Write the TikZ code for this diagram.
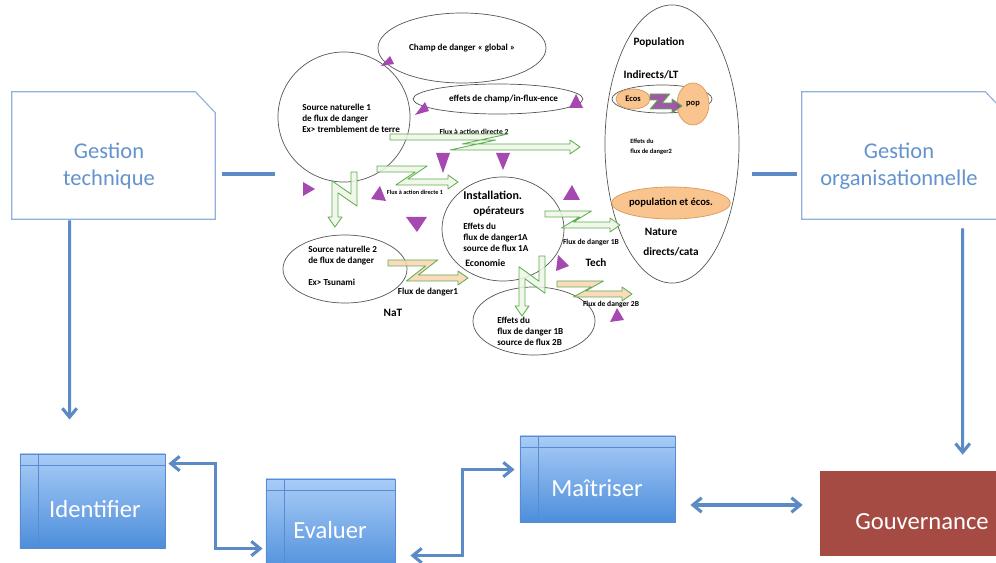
\documentclass[tikz,border=0pt]{standalone}
\usepackage{fontspec}
\setmainfont{Carlito}
\usetikzlibrary{arrows.meta, positioning, shapes.geometric, calc}
\definecolor{linkblue}{HTML}{5B8AC6}
\definecolor{docedge}{HTML}{8FB0DA}
\definecolor{docblue}{HTML}{6393CE}
\definecolor{tabtop}{HTML}{A9CCF7}
\definecolor{tabbot}{HTML}{4C8EDB}
\definecolor{tabedge}{HTML}{5A8ACF}
\definecolor{govred}{HTML}{A64B43}
\definecolor{fluxedge}{HTML}{5DAE4C}
\definecolor{fluxgreen}{HTML}{EEF6E8}
\definecolor{fluxpeach}{HTML}{FAD3B3}
\definecolor{zpurple}{HTML}{8E3D96}
\definecolor{trifill}{HTML}{A548B0}
\definecolor{orangefill}{HTML}{F9C48E}
\definecolor{orangeline}{HTML}{D8985A}
\definecolor{ringgray}{HTML}{555555}

% zigzag flux arrow: x, y, length, offset, rotation, fill
\newcommand{\zflux}[6]{%
  \begin{scope}[shift={(#1,#2)}, rotate=#5]
    \draw[flux, fill=#6] (0,-3) -- ({0.62*#3},-3) -- ({0.38*#3},{#4-3})
      -- ({#3-10},{#4-3}) -- ({#3-10},{#4-7}) -- (#3,#4) -- ({#3-10},{#4+7})
      -- ({#3-10},{#4+3}) -- ({0.38*#3-12},{#4+3}) -- ({0.62*#3-12},3)
      -- (0,3) -- cycle;
  \end{scope}}

\begin{document}
\begin{tikzpicture}[
  x=0.025cm, y=-0.025cm,
  bubble/.style={draw=ringgray, ellipse, inner sep=0pt, line width=0.5pt},
  orangebub/.style={bubble, draw=orangeline, fill=orangefill},
  lbl/.style={font=\fontsize{6.5}{7.8}\selectfont\bfseries, inner sep=0pt, align=left},
  big/.style={font=\fontsize{8}{9.6}\selectfont\bfseries, inner sep=0pt},
  small/.style={font=\fontsize{5.4}{6.4}\selectfont\bfseries, inner sep=0pt, align=left},
  tiny/.style={font=\fontsize{4.4}{5.6}\selectfont\bfseries, inner sep=0pt, align=left},
  flux/.style={draw=fluxedge, line width=0.6pt, line join=round, fill opacity=0.85},
  tri/.style={fill=trifill},
  docbox/.style={minimum width=5.075cm, minimum height=3.175cm, inner sep=0pt},
  doctext/.style={text=docblue, align=center, inner sep=0pt, font=\fontsize{16}{19.2}\selectfont},
  docline/.style={draw=docedge, line width=0.8pt},
  tabbox/.style={draw=tabedge, line width=0.6pt, top color=tabtop, bottom color=tabbot,
    path picture={\draw[tabedge, line width=0.5pt]
      ([xshift=4.5mm]path picture bounding box.north west) -- ([xshift=4.5mm]path picture bounding box.south west)
      ([yshift=-2.8mm]path picture bounding box.north west) -- ([yshift=-2.8mm]path picture bounding box.north east);}},
  govbox/.style={fill=govred, minimum width=4.75cm, minimum height=2.125cm},
  boxtext/.style={text=white, font=\fontsize{17.5}{21}\selectfont, inner sep=0pt},
  link/.style={draw=linkblue, line width=2.2pt},
  arr/.style={link, {Straight Barb[length=2.2mm,width=3.6mm]}-{Straight Barb[length=2.2mm,width=3.6mm]}},
]
\useasboundingbox (0,0) rectangle (996,563);
\clip (0,0) rectangle (996,563);

% Side frames
\node[docbox] (gt) at (113.5,155.5) {};
\node[docbox] (go) at (903.5,155.5) {};
\foreach \n in {gt,go} {
  \draw[docline] (\n.south west) -- (\n.north west) -- ([xshift=-0.5cm]\n.north east)
    -- ([yshift=-0.525cm]\n.north east) -- (\n.south east) -- cycle;
}
\node[doctext] (tgt) at (109,166) {Gestion\\technique};
\node[doctext] (tgo) at (899,166) {Gestion\\organisationnelle};
\coordinate (l1) at (222,174);
\coordinate (l2) at (275,174);
\coordinate (r1) at (752,174);
\coordinate (r2) at (797,174);
\draw[link] (l1) -- (l2);
\draw[link] (r1) -- (r2);

% Bottom steps
\node[tabbox, minimum width=3.625cm, minimum height=2.35cm] (id) at (92.5,501) {};
\node[tabbox, minimum width=3.225cm, minimum height=2.4cm] (ev) at (330.5,527) {};
\node[tabbox, minimum width=3.875cm, minimum height=2.15cm] (mt) at (597.5,479) {};
\node[govbox] (gv) at (915,513.5) {};
\node[boxtext] (tid) at (95,509) {Identifier};
\node[boxtext] (tev) at (330,530) {Evaluer};
\node[boxtext] (tmt) at (597,488) {Maîtriser};
\node[boxtext] (tgv) at (922,522) {Gouvernance};

\draw[link, -{Straight Barb[length=2.2mm,width=3.6mm]}] ($(gt.south west)+(58,1)$) -- ($(id.north west)+(50,-34)$);
\draw[link, -{Straight Barb[length=2.2mm,width=3.6mm]}] ($(go.south west)+(161,9)$) -- ($(gv.north west)+(143,-16)$);
\draw[arr] ($(id.north east)+(3,10)$) -- ++(47,0) |- ($(ev.north west)+(-3,70)$);
\draw[arr] ($(ev.north east)+(15,77)$) -- ++(52,0) |- ($(mt.north west)+(-5,34)$);
\draw[arr] ($(mt.east)+(15,26)$) -- ($(gv.west)+(-17,-8.5)$);

% Danger fields
\node[bubble, lbl, minimum width=4.2cm, minimum height=1.75cm] (champ) at (462,48) {Champ de danger « global »};
\node[bubble, minimum width=3.3cm, minimum height=3.25cm] (src1) at (344,117) {};
\node[bubble, lbl, minimum width=3.85cm, minimum height=0.75cm] (effets) at (498,99) {\hspace{8pt}effets de champ/in-flux-ence};
\node[bubble, minimum width=3.05cm, minimum height=2.6cm] (inst) at (503,229) {};
\node[bubble, minimum width=3.1cm, minimum height=1.7cm] (src2) at (345,269) {};
\node[bubble, minimum width=3.05cm, minimum height=1.7cm] (eff1b) at (534,321) {};
\node[bubble, minimum width=3.35cm, minimum height=6.95cm] (popbig) at (672,144) {};
\node[bubble, minimum width=2.5cm, minimum height=0.7cm] (indir) at (662,99) {};
\node[orangebub, font=\fontsize{6}{7}\selectfont\bfseries, minimum width=0.85cm, minimum height=0.5cm] (ecos) at (633,99) {Ecos};
\node[orangebub, font=\fontsize{6}{7}\selectfont\bfseries, minimum width=0.8cm, minimum height=1.05cm] (pop) at (693,104) {pop};
\node[orangebub, font=\fontsize{7.5}{9}\selectfont\bfseries, minimum width=2.9cm, minimum height=0.8cm] (popeco) at (671,203) {population et écos.};

% Texts
\node[lbl, anchor=west] (ts1) at (302,118) {Source naturelle 1\\de flux de danger\\Ex> tremblement de terre};
\node[small] (tfa2) at (474,132) {Flux à action directe 2};
\node[tiny] (tfa1) at (415,192) {Flux à action directe 1};
\node[big, font=\fontsize{8.5}{10}\selectfont\bfseries, anchor=west] (tinst) at (463,195) {Installation.};
\node[big, anchor=west] (top) at (473,212) {opérateurs};
\node[lbl, anchor=west] (teff1a) at (463,237) {Effets du\\flux de danger1A\\source de flux 1A};
\node[big, font=\fontsize{7}{8}\selectfont\bfseries, anchor=west] (teco) at (465,263) {Economie};
\node[lbl, anchor=west] (ts2) at (308,255.5) {Source naturelle 2\\de flux de danger};
\node[lbl, anchor=west] (tts) at (308,282) {Ex> Tsunami};
\node[lbl] (tfd1) at (428,292) {Flux de danger1};
\node[big] (tnat) at (393,313) {NaT};
\node[lbl, anchor=west] (teff1b) at (497,331) {Effets du\\flux de danger 1B\\source de flux 2B};
\node[small] (tfd1b) at (591,242) {Flux de danger 1B};
\node[big] (ttech) at (596,263) {Tech};
\node[small] (tfd2b) at (611,304) {Flux de danger 2B};
\node[big] (tpop) at (659,42) {Population};
\node[big] (tind) at (651,75) {Indirects/LT};
\node[tiny, font=\fontsize{4.6}{7}\selectfont\bfseries, anchor=west] (teff2) at (630,147) {Effets du\\flux de danger2};
\node[big] (tnature) at (661,232) {Nature};
\node[big] (tdir) at (671,252) {directs/cata};

% Flux arrows
\zflux{390}{137}{190}{10}{0}{fluxgreen}
\zflux{377}{169}{81}{13}{0}{fluxgreen}
\zflux{354}{172}{55}{19}{-90}{fluxgreen}
\zflux{388}{263}{80}{15}{0}{fluxpeach}
\zflux{542}{256}{60}{20}{-90}{fluxgreen}
\zflux{545}{214}{75}{11}{0}{fluxgreen}
\zflux{557}{284}{75}{10}{0}{fluxpeach}
\zflux{650}{97}{32}{9}{0}{zpurple}

% Markers
\foreach \ax/\ay/\bx/\by/\cx/\cy in {
  381/66/390/56/394/64,
  415/115/425/102/429/111,
  569/108/576/94/583/108,
  436/153/450/153/443/173,
  496/153/510/153/503/170,
  303/182/315/189/303/196,
  371/199/380/186/386/201,
  406/217/427/217/417/232,
  563/200/572/185/580/200,
  558/255/569/266/556/271,
  610/322/617/308/624/320%
}{
  \fill[tri] (\ax,\ay) -- (\bx,\by) -- (\cx,\cy) -- cycle;
}
\end{tikzpicture}
\end{document}
